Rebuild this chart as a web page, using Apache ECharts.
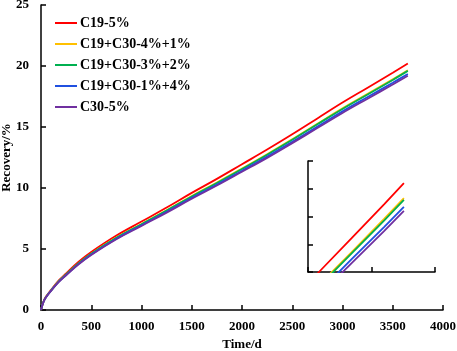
<!DOCTYPE html>
<html>
<head>
<meta charset="utf-8">
<script src="https://cdn.jsdelivr.net/npm/echarts@6/dist/echarts.min.js"></script>
<style>
  html, body { margin: 0; padding: 0; background: #fff; }
  #chart-container { width: 457px; height: 351px; }
</style>
</head>
<body>
<div id="chart-container"></div>
<script>
// time in days
var days = [0, 25, 50, 100, 175, 250, 375, 500, 750, 1000, 1250, 1500, 1750, 2000, 2250, 2500, 2750, 3000, 3250, 3500, 3650];

var seriesNames = ['C19-5%', 'C19+C30-4%+1%', 'C19+C30-3%+2%', 'C19+C30-1%+4%', 'C30-5%'];
var colors = ['#ff0000', '#ffc000', '#00b050', '#2050e0', '#7030a0'];

// recovery, %
var c19 = [0, 0.7, 1.1, 1.65, 2.4, 3.0, 3.95, 4.75, 6.1, 7.25, 8.4, 9.6, 10.75, 11.95, 13.15, 14.4, 15.7, 17.0, 18.22, 19.45, 20.2];
var mix41 = [0, 0.68, 1.07, 1.6, 2.34, 2.92, 3.84, 4.62, 5.94, 7.05, 8.17, 9.34, 10.45, 11.6, 12.77, 14.0, 15.27, 16.53, 17.72, 18.92, 19.66];
var mix32 = [0, 0.68, 1.07, 1.6, 2.33, 2.91, 3.83, 4.61, 5.92, 7.03, 8.15, 9.31, 10.41, 11.56, 12.73, 13.96, 15.22, 16.48, 17.67, 18.86, 19.6];
var mix14 = [0, 0.67, 1.05, 1.58, 2.3, 2.87, 3.78, 4.55, 5.84, 6.95, 8.05, 9.2, 10.28, 11.42, 12.57, 13.79, 15.03, 16.28, 17.46, 18.63, 19.35];
var c30 = [0, 0.66, 1.04, 1.57, 2.28, 2.85, 3.75, 4.51, 5.8, 6.89, 7.98, 9.12, 10.2, 11.33, 12.47, 13.68, 14.91, 16.15, 17.32, 18.48, 19.2];

var allValues = [c19, mix41, mix32, mix14, c30];

var dom = document.getElementById('chart-container');
var myChart = echarts.init(dom, null, { renderer: 'canvas' });

var font = 'Liberation Serif';
var axisLine = { show: true, lineStyle: { color: '#000', width: 1.5 } };
var axisTick = { show: true, inside: true, length: 5, lineStyle: { color: '#000', width: 1.5 } };
var labelStyle = { fontFamily: font, fontWeight: 'bold', fontSize: 13, color: '#000' };

function pairs(vals) {
    return days.map(function (d, i) { return [d, vals[i]]; });
}

var series = [];
allValues.forEach(function (vals, i) {
    series.push({
        name: seriesNames[i], type: 'line', xAxisIndex: 0, yAxisIndex: 0,
        data: pairs(vals), showSymbol: false, smooth: 0.4,
        lineStyle: { color: colors[i], width: 1.8 }, itemStyle: { color: colors[i] }
    });
});
// zoomed inset at the end of the curves
allValues.forEach(function (vals, i) {
    series.push({
        name: seriesNames[i], type: 'line', xAxisIndex: 1, yAxisIndex: 1,
        data: pairs(vals), showSymbol: false, smooth: false, clip: true,
        lineStyle: { color: colors[i], width: 1.8 }, itemStyle: { color: colors[i] }
    });
});

var option = {
    animation: false,
    color: colors,
    legend: {
        data: seriesNames,
        orient: 'vertical',
        left: 50, top: 11,
        icon: 'rect', itemWidth: 22, itemHeight: 2, itemGap: 7,
        textStyle: { fontFamily: font, fontWeight: 'bold', fontSize: 14, color: '#000', padding: [0, 0, 0, -2] }
    },
    grid: [
        { left: 41, right: 14, top: 5, bottom: 41, containLabel: false, outerBoundsMode: 'none' },
        { left: 308, top: 161, width: 127, height: 111, containLabel: false, outerBoundsMode: 'none' }
    ],
    xAxis: [
        {
            gridIndex: 0, type: 'value', min: 0, max: 4000, interval: 500,
            name: 'Time/d', nameLocation: 'middle', nameGap: 28, nameMoveOverlap: false,
            nameTextStyle: labelStyle,
            axisLine: axisLine, axisTick: axisTick, splitLine: { show: false },
            axisLabel: Object.assign({ margin: 10, formatter: function (v) { return String(v); } }, labelStyle)
        },
        {
            gridIndex: 1, type: 'value', min: 2916, max: 3888, interval: 486,
            axisLine: axisLine, axisTick: axisTick, splitLine: { show: false },
            axisLabel: { show: false }
        }
    ],
    yAxis: [
        {
            gridIndex: 0, type: 'value', min: 0, max: 25, interval: 5,
            name: 'Recovery/%', nameLocation: 'middle', nameGap: 28, nameRotate: 90, nameMoveOverlap: false,
            nameTextStyle: labelStyle,
            axisLine: axisLine, axisTick: axisTick, splitLine: { show: false },
            axisLabel: Object.assign({ margin: 12 }, labelStyle)
        },
        {
            gridIndex: 1, type: 'value', min: 17, max: 21, interval: 1,
            axisLine: axisLine, axisTick: axisTick, splitLine: { show: false },
            axisLabel: { show: false }
        }
    ],
    series: series
};

if (option && typeof option === 'object') {
    myChart.setOption(option);
}

window.addEventListener('resize', myChart.resize);
</script>
</body>
</html>
